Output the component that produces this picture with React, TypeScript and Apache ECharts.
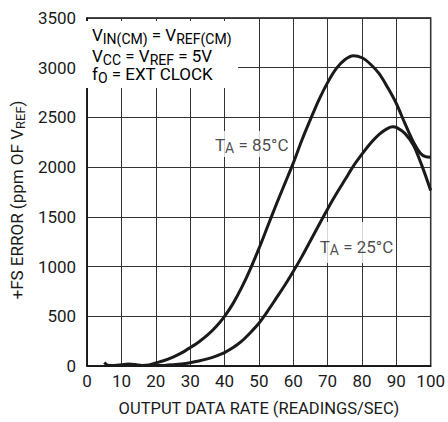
import React, { useEffect, useRef } from "react";
import * as echarts from "echarts";

const rate85 = [5, 6, 8, 10, 12, 14, 16, 18, 20, 22, 25, 27.5, 30, 32.5, 35, 37.5, 40, 42.5, 45, 47.5, 50, 52.5, 55, 57.5, 60, 62.5, 65, 67.5, 70, 72.5, 75, 77.5, 80, 82.5, 85, 87.5, 90, 92.5, 95, 97, 98.5, 100];
const err85 = [35, 8, 5, 12, 20, 14, 5, 10, 30, 50, 90, 132, 185, 242, 310, 395, 500, 630, 790, 975, 1180, 1400, 1620, 1830, 2040, 2270, 2480, 2680, 2850, 2990, 3080, 3120, 3100, 3035, 2940, 2800, 2640, 2440, 2250, 2140, 2105, 2100];
const rate25 = [17, 20, 22.5, 25, 27.5, 30, 32.5, 35, 37.5, 40, 42.5, 45, 47.5, 50, 52.5, 55, 57.5, 60, 62.5, 65, 67.5, 70, 72.5, 75, 77.5, 80, 82.5, 85, 87.5, 89, 90, 92.5, 95, 97.5, 100];
const err25 = [5, 5, 6, 12, 20, 33, 50, 72, 100, 135, 185, 250, 335, 430, 550, 680, 810, 950, 1100, 1260, 1420, 1580, 1730, 1870, 2010, 2130, 2240, 2330, 2390, 2405, 2400, 2340, 2220, 2010, 1766];
const label85Pos = [47.9, 2233];
const label25Pos = [78.4, 1243];
const xTicks = { min: 0, max: 100, interval: 10 };
const yTicks = { min: 0, max: 3500, interval: 500 };

const FONT = "Roboto, 'Liberation Sans Narrow', sans-serif";
const INK = "#1a1a1a";

const rich = {
  n: { fontSize: 17, fontFamily: FONT, color: INK, lineHeight: 16 },
  s: { fontSize: 14, fontFamily: FONT, color: INK, lineHeight: 10, padding: [7, 0, 0, 0] },
};
const richName = {
  n: { fontSize: 17, fontFamily: FONT, color: INK },
  s: { fontSize: 13, fontFamily: FONT, color: INK, padding: [8, 0, 0, 0] },
};

export default function App() {
  const ref = useRef<HTMLDivElement>(null);
  useEffect(() => {
    if (!ref.current) return;
    const chart = echarts.init(ref.current, null, { renderer: "svg" });
    const toPairs = (xs: number[], ys: number[]) => xs.map((x, i) => [x, ys[i]]);
    chart.setOption({
      animation: false,
      backgroundColor: "#fff",
      grid: {
        left: 83,
        top: 18,
        right: 14,
        bottom: 54,
        show: true,
        borderColor: "#111",
        borderWidth: 1.5,
        containLabel: false,
      },
      xAxis: {
        type: "value",
        ...xTicks,
        name: "OUTPUT DATA RATE (READINGS/SEC)",
        nameLocation: "middle",
        nameGap: 34,
        nameTextStyle: { fontSize: 16.5, fontFamily: FONT, color: INK },
        axisLine: { show: true, lineStyle: { color: "#111", width: 1.5 } },
        axisTick: { show: false },
        axisLabel: { margin: 6, fontSize: 17, fontFamily: FONT, color: INK, formatter: (v: number) => String(v) },
        splitLine: { show: true, lineStyle: { color: "#333", width: 1 } },
      },
      yAxis: {
        type: "value",
        ...yTicks,
        name: "{n|+FS ERROR (ppm OF V}{s|REF}{n|)}",
        nameLocation: "middle",
        nameGap: 41,
        nameRotate: 90,
        nameTextStyle: { rich: richName, padding: [0, 16, 0, 0] },
        axisLine: { show: true, lineStyle: { color: "#111", width: 1.5 } },
        axisTick: { show: false },
        axisLabel: { margin: 11, fontSize: 17, fontFamily: FONT, color: INK, formatter: (v: number) => String(v) },
        splitLine: { show: true, lineStyle: { color: "#333", width: 1 } },
      },
      graphic: [
        {
          type: "rect",
          z: 50,
          shape: { x: 84, y: 21, width: 154, height: 67 },
          style: { fill: "#fff" },
        },
        {
          type: "text",
          z: 51,
          x: 92,
          y: 27,
          style: { text: "{n|V}{s|IN(CM)}{n| = V}{s|REF(CM)}", rich },
        },
        {
          type: "text",
          z: 51,
          x: 92,
          y: 48,
          style: { text: "{n|V}{s|CC}{n| = V}{s|REF}{n| = 5V}", rich },
        },
        {
          type: "text",
          z: 51,
          x: 92,
          y: 66,
          style: { text: "{n|f}{s|O}{n| = EXT CLOCK}", rich },
        },
      ],
      series: [
        {
          type: "line",
          data: toPairs(rate85, err85),
          smooth: 0.3,
          symbol: "none",
          lineStyle: { color: INK, width: 3 },
          z: 3,
        },
        {
          type: "line",
          data: toPairs(rate25, err25),
          smooth: 0.3,
          symbol: "none",
          lineStyle: { color: INK, width: 3 },
          z: 3,
        },
        {
          type: "scatter",
          symbolSize: 1,
          itemStyle: { color: "rgba(0,0,0,0)" },
          z: 1,
          data: [
            { value: label85Pos, label: { formatter: "{n|T}{s|A}{n| = 85°C}", padding: [6, 2, 4, 2] } },
            { value: label25Pos, label: { formatter: "{n|T}{s|A}{n| = 25°C}", padding: [17, 2, 8, 2] } },
          ],
          label: {
            show: true,
            position: "inside",
            backgroundColor: "#fff",
            rich,
          },
        },
      ],
    });
    return () => chart.dispose();
  }, []);
  return <div ref={ref} style={{ position: "fixed", left: 0, top: 0, width: 448, height: 422 }} />;
}
